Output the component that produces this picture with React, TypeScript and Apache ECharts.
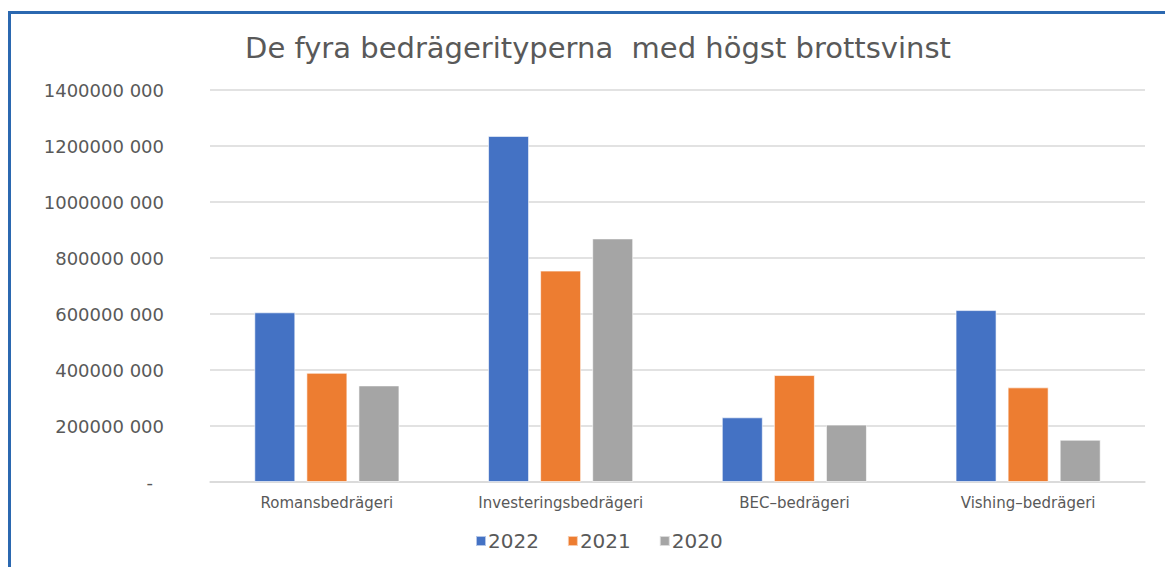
import React, { useEffect, useRef } from "react";
import * as echarts from "echarts";

const categories = ["Romansbedrägeri", "Investeringsbedrägeri", "BEC–bedrägeri", "Vishing–bedrägeri"];
const seriesNames = ["2022", "2021", "2020"];
const values2022 = [606000000, 1236000000, 231000000, 614000000];
const values2021 = [390000000, 755000000, 382000000, 338000000];
const values2020 = [345000000, 870000000, 205000000, 151000000];
const colors = ["#4472C4", "#ED7D31", "#A5A5A5"];
const titleText = "De fyra bedrägerityperna  med högst brottsvinst";

const FONT = "DejaVu Sans";

function formatY(v: number): string {
  if (v === 0) return "{z|-}";
  const head = Math.floor(v / 1000);
  const tail = String(v % 1000).padStart(3, "0");
  return `${head} ${tail}`;
}

export default function App() {
  const ref = useRef<HTMLDivElement>(null);
  useEffect(() => {
    if (!ref.current) return;
    const chart = echarts.init(ref.current, undefined, { renderer: "svg" });
    const data = [values2022, values2021, values2020];
    chart.setOption({
      animation: false,
      backgroundColor: "#ffffff",
      title: {
        text: titleText,
        left: 593,
        textAlign: "center",
        top: 28,
        textStyle: { fontFamily: FONT, fontSize: 29, fontWeight: "normal", color: "#595959" },
      },
      legend: {
        data: seriesNames,
        left: 475,
        top: 531,
        padding: 0,
        itemWidth: 10,
        itemHeight: 10,
        itemGap: 28,
        icon: "rect",
        textStyle: { fontFamily: FONT, fontSize: 20, color: "#595959", padding: [0, 0, 0, -3] },
      },
      grid: { left: 210, right: 20, top: 90, bottom: 85, containLabel: false },
      xAxis: {
        type: "category",
        data: categories,
        axisLine: { show: true, lineStyle: { color: "#D9D9D9", width: 1.5 } },
        axisTick: { show: false },
        axisLabel: { fontFamily: FONT, fontSize: 15, color: "#595959", margin: 13 },
      },
      yAxis: {
        type: "value",
        min: 0,
        max: 1400000000,
        interval: 200000000,
        axisLine: { show: false },
        axisTick: { show: false },
        splitLine: { lineStyle: { color: "#D9D9D9", width: 1.5 } },
        axisLabel: {
          fontFamily: FONT,
          fontSize: 18,
          color: "#595959",
          margin: 46,
          formatter: formatY,
          rich: { z: { fontFamily: FONT, fontSize: 18, color: "#595959", padding: [0, 11, 0, 0] } },
        },
      },
      series: seriesNames.map((name, i) => ({
        name,
        type: "bar",
        data: data[i],
        barWidth: 41,
        barGap: "27%",
        itemStyle: { color: colors[i], borderColor: "rgba(255,255,255,0.6)", borderWidth: 1 },
      })),
      graphic: [
        { type: "line", shape: { x1: 9.5, y1: 11, x2: 9.5, y2: 567 }, style: { stroke: "#2B68B0", lineWidth: 3 }, z: 100 },
        { type: "line", shape: { x1: 8, y1: 12.5, x2: 1165, y2: 12.5 }, style: { stroke: "#2B68B0", lineWidth: 3 }, z: 100 },
      ],
    });
    return () => chart.dispose();
  }, []);
  return <div ref={ref} style={{ position: "absolute", left: 0, top: 0, width: 1165, height: 567 }} />;
}
